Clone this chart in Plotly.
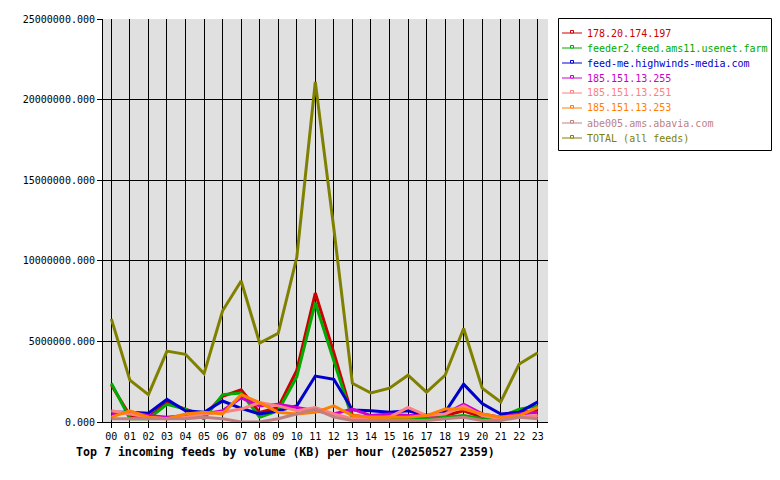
import plotly.graph_objects as go

hours = ["00","01","02","03","04","05","06","07","08","09","10","11",
         "12","13","14","15","16","17","18","19","20","21","22","23"]

s_red = [2.3,0.4,0.3,1.2,0.8,0.4,1.6,2.0,0.6,0.9,3.2,8.0,4.3,0.4,0.3,0.3,0.3,0.3,0.4,0.7,0.3,0.3,0.6,0.7]
s_green = [2.4,0.2,0.2,1.1,0.8,0.2,1.7,1.8,0.3,0.7,2.8,7.4,3.8,0.2,0.2,0.2,0.2,0.2,0.3,0.4,0.2,0.3,0.8,1.0]
s_blue = [0.6,0.6,0.55,1.4,0.7,0.6,1.3,0.85,0.5,0.7,1.0,2.85,2.65,0.75,0.7,0.6,0.7,0.4,0.6,2.35,1.15,0.5,0.6,1.25]
s_magenta = [0.5,0.6,0.4,0.3,0.4,0.5,0.7,1.5,1.0,1.1,0.9,0.7,0.5,0.8,0.4,0.5,0.4,0.4,0.5,1.1,0.5,0.3,0.5,0.6]
s_pink = [0.7,0.5,0.3,0.2,0.3,0.5,0.6,0.8,1.2,1.0,0.7,0.9,0.5,0.2,0.3,0.3,0.9,0.4,0.5,1.0,0.4,0.2,0.3,0.4]
s_orange = [0.3,0.7,0.3,0.2,0.5,0.6,0.5,1.7,1.2,0.6,0.5,0.6,1.0,0.4,0.3,0.3,0.3,0.4,0.8,0.8,0.5,0.3,0.4,0.9]
s_rosy = [0.2,0.2,0.2,0.2,0.2,0.3,0.2,0.0,0.0,0.2,0.5,0.8,0.3,0.1,0.1,0.1,0.1,0.1,0.2,0.3,0.1,0.1,0.3,0.2]
s_total = [6.4,2.6,1.7,4.4,4.2,3.0,6.9,8.75,4.9,5.5,10.2,21.1,12.0,2.4,1.8,2.1,2.9,1.85,2.9,5.8,2.1,1.25,3.6,4.3]

names = ["178.20.174.197", "feeder2.feed.ams11.usenet.farm", "feed-me.highwinds-media.com",
         "185.151.13.255", "185.151.13.251", "185.151.13.253", "abe005.ams.abavia.com", "TOTAL (all feeds)"]
colors = ["#cc0000", "#00aa00", "#0000cc", "#cc00cc", "#ff8080", "#ff8000", "#c08080", "#808000"]
series = [s_red, s_green, s_blue, s_magenta, s_pink, s_orange, s_rosy, s_total]

W, H = 780, 480
L, R, T, B = 103, 548, 19, 422
pw, ph = R - L, B - T

def px(x):
    return (x - L) / pw

def py(y):
    return (B - y) / ph

fig = go.Figure()
xs = list(range(len(hours)))
for name, col, vals in zip(names, colors, series):
    fig.add_trace(go.Scatter(
        x=xs, y=[v * 1e6 for v in vals], mode="lines", name=name,
        line=dict(color=col, width=3), showlegend=False, hoverinfo="skip"))

mono = "DejaVu Sans Mono"
shapes = [dict(type="rect", xref="paper", yref="paper",
               x0=px(558.5), x1=px(771.5), y0=py(150.5), y1=py(18.5),
               line=dict(color="black", width=1), fillcolor="white", layer="above")]
annotations = []
for i, (name, col) in enumerate(zip(names, colors)):
    yc = 33 + 15 * i
    shapes.append(dict(type="line", xref="paper", yref="paper",
                       x0=px(562), x1=px(582), y0=py(yc), y1=py(yc),
                       line=dict(color=col, width=1), layer="above"))
    shapes.append(dict(type="rect", xref="paper", yref="paper",
                       x0=px(570.5), x1=px(573.5), y0=py(yc), y1=py(yc - 2.5),
                       line=dict(color=col, width=1), fillcolor="white", layer="above"))
    annotations.append(dict(text=name, xref="paper", yref="paper",
                            x=px(585), y=py(yc), xanchor="left", yanchor="middle",
                            showarrow=False, font=dict(family=mono, size=10, color=col)))

annotations.append(dict(text="<b>Top 7 incoming feeds by volume (KB) per hour (20250527 2359)</b>",
                        xref="paper", yref="paper", x=px(74), y=py(452),
                        xanchor="left", yanchor="middle", showarrow=False,
                        font=dict(family=mono, size=11.6, color="black")))

fig.update_layout(
    width=W, height=H,
    margin=dict(l=L, r=W - R, t=T, b=H - B, autoexpand=False),
    paper_bgcolor="white", plot_bgcolor="#e0e0e0",
    font=dict(family=mono, size=10, color="black"),
    showlegend=False,
    xaxis=dict(range=[-0.45, 23.55], tickmode="array", tickvals=xs, ticktext=hours,
               showgrid=True, gridcolor="black", gridwidth=1, zeroline=False,
               showline=True, linecolor="black", linewidth=1,
               ticks="outside", ticklen=5, tickcolor="black",
               tickfont=dict(family=mono, size=10)),
    yaxis=dict(range=[0, 25e6], tickvals=[0, 5e6, 10e6, 15e6, 20e6, 25e6],
               tickformat=".3f", showgrid=True, gridcolor="black", gridwidth=1,
               zeroline=False, showline=True, linecolor="black", linewidth=1,
               ticks="outside", ticklen=5, tickcolor="black",
               tickfont=dict(family=mono, size=10)),
    shapes=shapes,
    annotations=annotations,
)
fig.write_html("out.html")
